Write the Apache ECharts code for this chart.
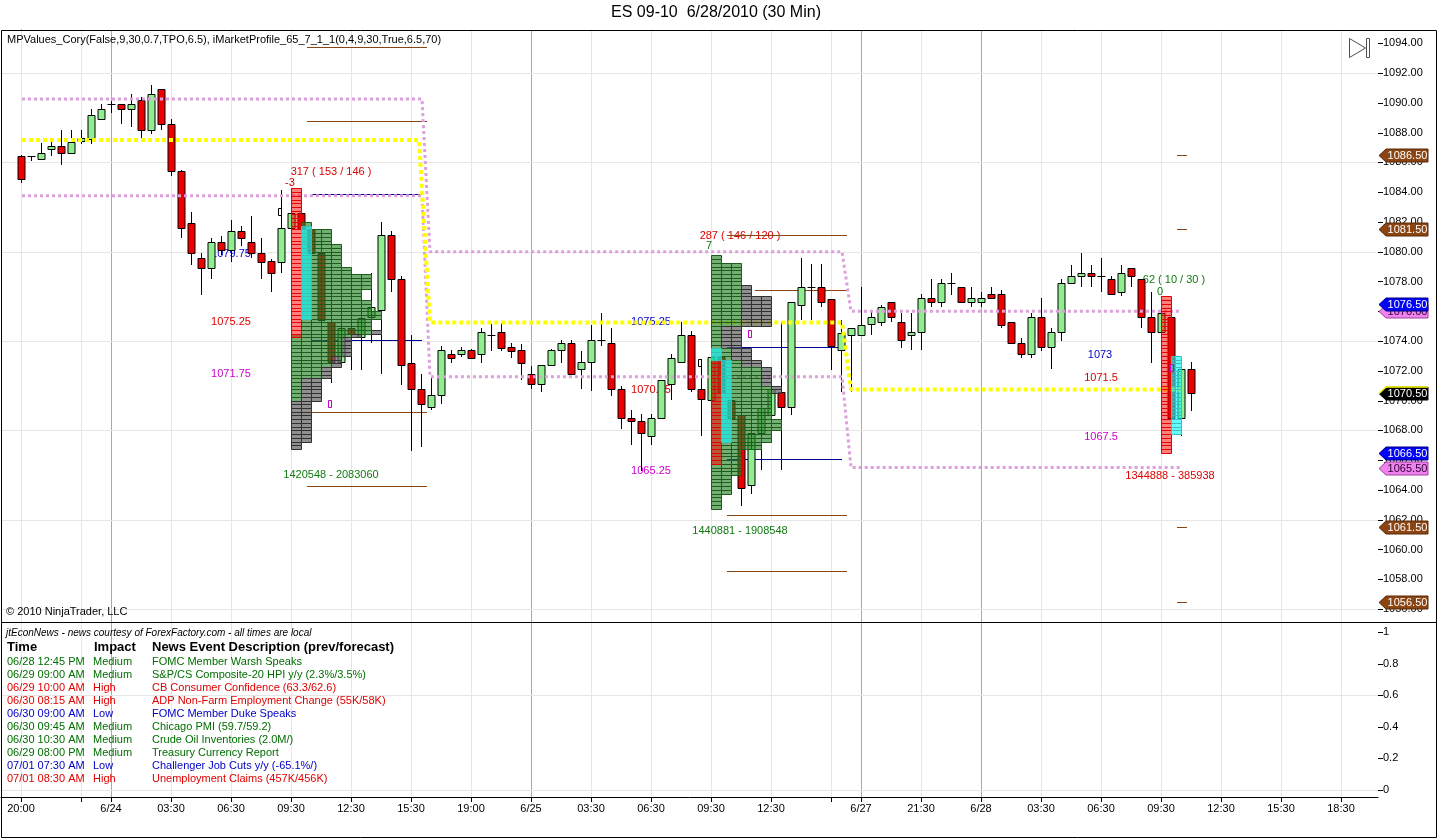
<!DOCTYPE html>
<html><head><meta charset="utf-8">
<script src="https://cdn.jsdelivr.net/npm/echarts@6/dist/echarts.min.js"></script>
<style>html,body{margin:0;padding:0;background:#fff;}#c{width:1440px;height:840px;}</style>
</head><body><div id="c"></div>
<script>
const FONT = '"Liberation Sans", Arial, sans-serif';

// ---- candle values (30-min bars) ----
const opens  = [1086.4,1086.4,1086.2,1086.9,1087.1,1086.6,1087.45,1087.6,1088.9,1089.9,1089.9,1089.6,1090.2,1088.2,1090.9,1088.6,1085.4,1081.9,1079.6,1078.9,1080.65,1080.1,1081.4,1080.65,1079.9,1079.4,1079.3,1081.6,1082.6,1081.5,1079.9,1075.3,1072.6,1074.9,1074.3,1075.6,1076.1,1081.1,1078.15,1072.55,1070.8,1069.6,1070.35,1073.1,1073.1,1073.4,1073.1,1074.4,1074.6,1073.6,1073.4,1071.8,1071.1,1072.4,1073.4,1073.85,1072.1,1072.6,1074.1,1073.85,1070.8,1068.85,1068.6,1067.6,1068.8,1071.1,1072.6,1074.4,1070.8,1070.05,1072.9,1070.05,1069.05,1064.3,1067.8,1069.05,1070.6,1069.6,1076.4,1077.6,1077.6,1076.8,1073.4,1074.4,1074.4,1075.15,1075.3,1076.6,1075.3,1074.4,1074.6,1076.9,1076.6,1077.9,1077.6,1076.6,1076.6,1077.15,1077.15,1075.3,1073.85,1073.1,1075.6,1073.6,1074.6,1077.9,1078.4,1078.6,1078.4,1078.15,1077.3,1078.9,1078.15,1075.6,1074.6,1075.6,1068.8,1072.1];
const closes = [1084.9,1086.4,1086.6,1087.1,1086.6,1087.4,1087.65,1089.2,1089.6,1089.9,1089.6,1089.9,1088.2,1090.6,1088.6,1085.4,1081.6,1079.9,1078.9,1080.65,1080.1,1081.4,1080.9,1079.9,1079.3,1078.6,1081.6,1082.6,1081.5,1079.9,1075.4,1072.6,1074.9,1074.5,1075.55,1076.3,1081.1,1078.15,1072.4,1070.8,1069.8,1070.35,1073.4,1072.85,1073.4,1072.85,1074.6,1074.4,1073.55,1073.35,1072.55,1071.1,1072.4,1073.4,1073.85,1071.8,1072.6,1074.1,1074.1,1070.8,1068.8,1068.6,1067.85,1068.8,1071.4,1072.85,1074.4,1070.8,1070.1,1072.9,1070.5,1068.8,1064.1,1067.8,1069.5,1070.8,1069.6,1076.6,1077.6,1077.6,1076.65,1073.65,1074.55,1074.85,1075.1,1075.6,1076.3,1075.6,1074.1,1074.6,1076.9,1076.6,1077.9,1077.9,1076.6,1076.9,1076.9,1076.9,1075.1,1073.85,1073.1,1075.6,1073.6,1074.6,1077.9,1078.4,1078.6,1078.4,1078.4,1077.15,1078.6,1078.4,1075.6,1074.6,1075.85,1068.8,1072.1,1070.5];
const lows   = [1084.6,1086.1,1086.2,1086.4,1085.8,1086.6,1087.2,1087.2,1088.9,1089.3,1088.6,1088.4,1087.6,1087.9,1088.2,1085.1,1080.9,1079.1,1077.1,1078.15,1079.8,1079.3,1080.35,1079.6,1078.15,1077.3,1078.6,1081.4,1080.5,1079.5,1075.0,1071.2,1072.4,1072.05,1072.05,1073.9,1071.8,1077.3,1071.05,1066.6,1066.9,1069.4,1069.8,1072.5,1072.9,1072.85,1072.55,1073.35,1073.35,1072.85,1071.4,1070.8,1070.6,1072.4,1072.55,1071.8,1070.8,1070.65,1073.65,1070.3,1068.1,1067.0,1065.25,1067.0,1068.8,1070.05,1072.6,1070.6,1067.6,1069.8,1069.5,1068.5,1062.9,1063.7,1065.35,1068.8,1065.35,1069.05,1075.4,1075.4,1076.3,1072.05,1070.6,1070.6,1074.4,1074.4,1075.0,1075.3,1073.55,1073.4,1073.4,1076.3,1076.3,1077.1,1076.6,1076.3,1076.3,1076.9,1074.85,1073.85,1072.85,1072.85,1073.35,1072.1,1074.0,1077.9,1077.6,1077.6,1077.3,1077.15,1077.0,1077.6,1074.85,1072.55,1073.5,1068.5,1067.6,1069.3];
const highs  = [1086.5,1086.4,1087.3,1087.4,1088.2,1088.2,1088.2,1089.6,1089.9,1090.1,1089.9,1090.6,1090.4,1091.2,1090.9,1088.9,1085.5,1082.65,1079.9,1080.9,1081.05,1082.1,1081.7,1082.4,1080.9,1079.5,1084.15,1083.0,1082.9,1081.8,1080.2,1075.5,1075.2,1075.1,1076.3,1078.6,1082.0,1081.4,1078.4,1074.4,1071.8,1071.6,1073.65,1073.4,1073.6,1073.45,1074.9,1075.15,1075.2,1073.9,1073.8,1072.3,1072.4,1073.45,1074.1,1074.1,1073.35,1075.1,1075.85,1074.85,1071.0,1069.4,1069.1,1069.1,1071.4,1073.1,1075.3,1074.7,1072.8,1073.2,1073.0,1070.3,1069.3,1068.3,1069.8,1071.0,1075.3,1076.6,1079.6,1079.15,1079.15,1076.8,1075.4,1074.85,1077.6,1076.1,1076.4,1076.6,1075.85,1075.85,1077.15,1078.15,1078.15,1078.6,1077.6,1077.6,1077.3,1077.6,1077.4,1075.3,1074.2,1075.85,1076.9,1074.9,1078.15,1079.1,1079.9,1079.1,1079.6,1078.4,1079.1,1078.9,1078.15,1077.3,1076.0,1075.8,1072.3,1072.6];

// ---- axis ticks ----
const xTickIdx    = [0,6,9,15,21,27,33,39,45,51,57,63,69,75,81,84,90,96,102,108,114,120,126,132];
const xTickLabels = ['20:00','','6/24','03:30','06:30','09:30','12:30','15:30','19:00','6/25','03:30','06:30','09:30','12:30','','6/27','21:30','6/28','03:30','06:30','09:30','12:30','15:30','18:30'];
const dayTicks = [9,51,84,96];
const yTickPrices = [];
for (let p = 1056; p <= 1094; p += 2) yTickPrices.push(p);
const hGridPrices = [1056,1062,1068,1074,1080,1086,1092];
const subTicks = [0,0.2,0.4,0.6,0.8,1];
const subGrid = [0,0.6];

// ---- market profiles: [high, low, greenFromCol, greenToCol, greyFromCol, greyToCol] ----
const profileAStart = 27.0;
const profileABands = [
 [1082.0,1081.5,1,2,0,0],[1081.5,1080.5,1,4,0,0],[1080.5,1079.0,1,5,0,0],[1079.0,1078.5,1,6,0,0],
 [1078.5,1077.5,1,8,0,0],[1077.5,1076.75,1,7,0,0],[1076.75,1076.0,1,8,0,0],[1076.0,1075.5,1,9,0,0],
 [1075.5,1074.75,1,8,0,0],[1074.75,1074.5,1,8,8,9],[1074.5,1074.25,0,6,6,7],[1074.25,1073.0,0,5,5,6],
 [1073.0,1072.25,0,4,4,5],[1072.25,1071.5,0,3,3,4],[1071.5,1070.0,0,1,1,3],[1070.0,1067.25,0,0,0,2],
 [1067.25,1066.75,0,0,0,1]];
const profileARed  = [[0,1084.25,1074.25]];
const profileACyan = [[1,1081.75,1075.5]];

const profileBStart = 69.0;
const profileBBands = [
 [1079.75,1079.25,0,1,0,0],[1079.25,1077.75,0,3,0,0],[1077.75,1077.0,0,3,3,4],[1077.0,1075.0,0,3,3,6],
 [1075.0,1073.5,0,1,1,3],[1073.5,1072.75,0,2,2,4],[1072.75,1072.25,0,3,3,5],[1072.25,1071.0,0,5,5,6],
 [1071.0,1070.5,0,6,6,7],[1070.5,1068.75,0,6,0,0],[1068.75,1068.0,0,7,0,0],[1068.0,1067.25,0,6,0,0],
 [1067.25,1066.75,0,5,0,0],[1066.75,1065.0,0,3,0,0],[1065.0,1063.75,0,2,0,0],[1063.75,1062.75,0,1,0,0]];
const profileBRed  = [[0,1072.75,1065.75]];
const profileBCyan = [[0,1073.5,1072.75],[1,1072.75,1067.25]];

const profileCStart = 114.0;
const profileCBands = [];
const profileCRed  = [[0,1077.0,1066.5]];
const profileCCyan = [[1,1073.0,1067.75]];

// ---- level segments: [fromIdx, toIdx, price, kind] ----
const levelSegments = [
 [28.6,40.6,1093.75,'brown'],[28.6,40.6,1088.75,'brown'],[29.1,40.6,1069.25,'brown'],[28.6,40.6,1064.25,'brown'],
 [29.1,40.1,1083.85,'blue'],[29.1,40.1,1074.1,'blue'],
 [70.6,82.6,1081.1,'brown'],[73.4,82.6,1077.4,'brown'],[70.6,82.6,1062.3,'brown'],[70.6,82.6,1058.55,'brown'],
 [70.6,82.1,1073.6,'blue'],[70.6,82.1,1066.06,'blue'],
 [115.6,116.6,1086.5,'brown'],[115.6,116.6,1081.5,'brown'],[115.6,116.6,1061.5,'brown'],[115.6,116.6,1056.5,'brown']];

// ---- dotted session levels ----
const pinkUpper = [[0.1,1090.25],[40.1,1090.25],[40.9,1080.0],[82.1,1080.0],[83.0,1076.0],[116.1,1076.0]];
const pinkLower = [[0.1,1083.75],[40.1,1083.75],[40.9,1071.6],[82.1,1071.6],[83.0,1065.5],[116.1,1065.5]];
const yellowLevel = [[0.1,1087.5],[39.8,1087.5],[40.9,1075.25],[82.1,1075.25],[83.0,1070.75],[116.1,1070.75]];

// ---- annotation labels: [idx, price, text, colour] ----
const annotations = [
 [31.0,1085.36,'317 ( 153 / 146 )','red'],[26.9,1084.62,'-3','red'],
 [21.0,1079.85,'1079.75','blue'],[21.0,1075.28,'1075.25','red'],[21.0,1071.8,'1071.75','magenta'],
 [31.0,1065.0,'1420548 - 2083060','green'],
 [63.0,1075.28,'1075.25','blue'],[63.0,1070.72,'1070.75','red'],[63.0,1065.28,'1065.25','magenta'],
 [71.9,1081.06,'287 ( 146 / 120 )','red'],[68.8,1080.4,'7','green'],[71.9,1061.25,'1440881 - 1908548','green'],
 [107.9,1073.07,'1073','blue'],[108.0,1071.53,'1071.5','red'],[108.0,1067.57,'1067.5','magenta'],
 [114.9,1064.94,'1344888 - 385938','red'],[115.3,1078.1,'62 ( 10 / 30 )','green'],[113.9,1077.3,'0','green']];

const hollowMarks = [[25.9,1082.65,'black'],[67.9,1072.5,'black'],[30.9,1069.8,'magenta'],[72.9,1074.5,'magenta'],[115.1,1072.2,'magenta']];

// ---- right axis price markers ----
const markerPrices = [1086.5,1081.5,1076.0,1076.5,1070.5,1066.5,1065.5,1061.5,1056.5];
const markerKinds  = ['brown','brown','pink','blue','last','blue','pink','brown','brown'];

// ---- news panel ----
const newsTimes = ['06/28 12:45 PM','06/29 09:00 AM','06/29 10:00 AM','06/30 08:15 AM','06/30 09:00 AM','06/30 09:45 AM','06/30 10:30 AM','06/29 08:00 PM','07/01 07:30 AM','07/01 08:30 AM'];
const newsImpacts = ['Medium','Medium','High','High','Low','Medium','Medium','Medium','Low','High'];
const newsDescs = ['FOMC Member Warsh Speaks','S&P/CS Composite-20 HPI y/y (2.3%/3.5%)','CB Consumer Confidence (63.3/62.6)','ADP Non-Farm Employment Change (55K/58K)','FOMC Member Duke Speaks','Chicago PMI (59.7/59.2)','Crude Oil Inventories (2.0M/)','Treasury Currency Report','Challenger Job Cuts y/y (-65.1%/)','Unemployment Claims (457K/456K)'];

// ================= rendering =================
const xMin = -2.0, xMax = 135.7, yMin = 1055.13, yMax = 1094.89;
const labelColors = {red:'#dd0000', blue:'#0000cc', magenta:'#cc00cc', green:'#107a10', black:'#000'};
const segColors = {brown:'#8b4513', blue:'#000099'};
const impactColors = {Medium:'#006e00', High:'#e00000', Low:'#0000c8'};

function buildCells(start, bands, red, cyan) {
  const cells = [];
  bands.forEach(b => {
    for (let p = b[0]; p > b[1] + 1e-6; p -= 0.25) {
      for (let c = b[2]; c < b[3]; c++) cells.push([start + c, p, 0]);
      for (let c = b[4]; c < b[5]; c++) cells.push([start + c, p, 1]);
    }
  });
  red.forEach(r => { for (let p = r[1]; p > r[2] + 1e-6; p -= 0.25) cells.push([start + r[0], p, 2]); });
  cyan.forEach(r => { for (let p = r[1]; p > r[2] + 1e-6; p -= 0.25) cells.push([start + r[0], p, 3]); });
  return cells;
}
const cells = [].concat(
  buildCells(profileAStart, profileABands, profileARed, profileACyan),
  buildCells(profileBStart, profileBBands, profileBRed, profileBCyan),
  buildCells(profileCStart, profileCBands, profileCRed, profileCCyan));
const cellStyles = [
  {fill:'rgba(40,130,40,0.65)', stroke:'#1d5a1d'},
  {fill:'rgba(100,100,100,0.72)', stroke:'#303030'},
  {fill:'rgba(255,0,0,0.5)', stroke:'#e00000'},
  {fill:'rgba(0,255,255,0.6)', stroke:'#40bcbc'}];

const candleData = opens.map((o, i) => [i, o, closes[i], lows[i], highs[i]]);

function candleRender(params, api) {
  const i = api.value(0), o = api.value(1), c = api.value(2), l = api.value(3), h = api.value(4);
  const pO = api.coord([i, o]), pC = api.coord([i, c]), pL = api.coord([i, l]), pH = api.coord([i, h]);
  const x = Math.round(pO[0]) + 0.5;
  const top = Math.round(Math.min(pO[1], pC[1])), bot = Math.round(Math.max(pO[1], pC[1]));
  const ch = [{type:'line', shape:{x1:x, y1:Math.round(pH[1]), x2:x, y2:Math.round(pL[1])}, style:{stroke:'#000', lineWidth:1}}];
  if (bot - top < 2) {
    ch.push({type:'line', shape:{x1:x-4, y1:top+0.5, x2:x+4, y2:top+0.5}, style:{stroke:'#000', lineWidth:1}});
  } else {
    ch.push({type:'rect', shape:{x:x-3.5, y:top+0.5, width:7, height:bot-top}, style:{fill: c >= o ? '#90ee90' : '#ee0000', stroke:'#000', lineWidth:1}});
  }
  return {type:'group', children:ch};
}
function cellRender(params, api) {
  const cl = cells[params.dataIndex];
  const a = api.coord([cl[0], cl[1]]), b = api.coord([cl[0] + 1, cl[1] - 0.25]);
  const x0 = Math.round(a[0]) + 0.5, y0 = Math.round(a[1]) + 0.5;
  const st = cellStyles[cl[2]];
  return {type:'rect', shape:{x:x0, y:y0, width:Math.round(b[0]) - Math.round(a[0]), height:Math.round(b[1]) - Math.round(a[1])}, style:{fill:st.fill, stroke:st.stroke, lineWidth:1}};
}
function vgridRender(params, api) {
  const v = xTickIdx[params.dataIndex];
  const cs = params.coordSys;
  const x = Math.round(api.coord([v, api.value(1)])[0]) + 0.5;
  return {type:'line', shape:{x1:x, y1:cs.y, x2:x, y2:cs.y + cs.height}, style:{stroke: dayTicks.indexOf(v) >= 0 ? '#a9a9a9' : '#e6e6e6', lineWidth:1}};
}
function hgridRender(params, api) {
  const cs = params.coordSys;
  const y = Math.round(api.coord([0, api.value(1)])[1]) + 0.5;
  return {type:'line', shape:{x1:cs.x, y1:y, x2:cs.x + cs.width, y2:y}, style:{stroke:'#e6e6e6', lineWidth:1}};
}
// y-axis tick marks drawn just right of the axis line
function yTickRender(params, api) {
  const cs = params.coordSys;
  const y = Math.round(api.coord([xMax, api.value(1)])[1]) + 0.5;
  const x = cs.x + cs.width;
  return {type:'line', shape:{x1:x, y1:y, x2:x + 5, y2:y}, style:{stroke:'#000', lineWidth:1}};
}
// x-axis tick marks drawn just below the axis line
function xTickRender(params, api) {
  const cs = params.coordSys;
  const x = Math.round(api.coord([api.value(0), 0.5])[0]) + 0.5;
  const y = cs.y + cs.height;
  return {type:'line', shape:{x1:x, y1:y, x2:x, y2:y + 5}, style:{stroke:'#000', lineWidth:1}};
}
function annRender(params, api) {
  const a = annotations[params.dataIndex];
  const p = api.coord([a[0], a[1]]);
  return {type:'text', x:Math.round(p[0]), y:Math.round(p[1]), style:{text:a[2], fill:labelColors[a[3]], font:'11px ' + FONT, align:'center', verticalAlign:'middle', textAlign:'center', textVerticalAlign:'middle'}};
}
function segRender(params, api) {
  const s = levelSegments[params.dataIndex];
  const a = api.coord([s[0], s[2]]), b = api.coord([s[1], s[2]]);
  const y = Math.round(a[1]) + 0.5;
  return {type:'line', shape:{x1:Math.round(a[0]), y1:y, x2:Math.round(b[0]), y2:y}, style:{stroke:segColors[s[3]], lineWidth:1}};
}
function hollowRender(params, api) {
  const m = hollowMarks[params.dataIndex];
  const p = api.coord([m[0], m[1]]);
  return {type:'rect', shape:{x:Math.round(p[0]) - 1.5, y:Math.round(p[1]) - 3.5, width:3, height:7}, style:{fill:'rgba(255,255,255,0)', stroke:labelColors[m[2]], lineWidth:1}};
}
const markerStyles = {
  brown:{fill:'#8b4513', stroke:'#5a2a08', text:'#fff'},
  blue:{fill:'#0000ff', stroke:'#000080', text:'#fff'},
  pink:{fill:'#ee82ee', stroke:'#a040a0', text:'#300030'},
  last:{fill:'#000', stroke:'#000', text:'#fff'}};
function markerRender(params, api) {
  const price = markerPrices[params.dataIndex], kind = markerKinds[params.dataIndex];
  const cs = params.coordSys;
  const x = cs.x + cs.width + 1;
  const y = Math.round(api.coord([xMax, price])[1]) + 0.5;
  const h = 6.5, st = markerStyles[kind];
  const ch = [
    {type:'polygon', shape:{points:[[x, y],[x + 7, y - h],[1428, y - h],[1428, y + h],[x + 7, y + h]]}, style:{fill:st.fill, stroke:st.stroke, lineWidth:1}},
    {type:'text', x:1407.5, y:y, style:{text:price.toFixed(2), fill:st.text, font:'11px ' + FONT, align:'center', verticalAlign:'middle', textAlign:'center', textVerticalAlign:'middle'}}];
  if (kind === 'last') ch.push({type:'polyline', shape:{points:[[x, y],[x + 7, y - h],[1428, y - h]]}, style:{stroke:'#ffff00', lineWidth:1.5, fill:null}});
  return {type:'group', children:ch};
}

// ---- graphic (title, panel text, frame) ----
const graphics = [
  {type:'rect', shape:{x:1.5, y:30.5, width:1435, height:807}, style:{fill:'none', stroke:'#000', lineWidth:1}, z:100},
  {type:'line', shape:{x1:1, y1:622.5, x2:1437, y2:622.5}, style:{stroke:'#000', lineWidth:1}, z:100},
  {type:'text', x:716, y:13, style:{text:'ES 09-10  6/28/2010 (30 Min)', font:'16px ' + FONT, fill:'#000', align:'center', verticalAlign:'middle', textAlign:'center', textVerticalAlign:'middle'}, z:100},
  {type:'text', x:7, y:40, style:{text:'MPValues_Cory(False,9,30,0.7,TPO,6.5), iMarketProfile_65_7_1_1(0,4,9,30,True,6.5,70)', font:'11px ' + FONT, fill:'#000', align:'left', verticalAlign:'middle', textAlign:'left', textVerticalAlign:'middle'}, z:100},
  {type:'text', x:6, y:612, style:{text:'\u00a9 2010 NinjaTrader, LLC', font:'11px ' + FONT, fill:'#000', align:'left', verticalAlign:'middle', textAlign:'left', textVerticalAlign:'middle'}, z:100},
  {type:'polygon', shape:{points:[[1349.5,38.5],[1349.5,57.5],[1365.5,48]]}, style:{fill:'#fff', stroke:'#505050', lineWidth:1}, z:100},
  {type:'rect', shape:{x:1366.5, y:38.5, width:3, height:19}, style:{fill:'#fff', stroke:'#505050', lineWidth:1}, z:100},
  {type:'text', x:6, y:633, style:{text:'jtEconNews - news courtesy of ForexFactory.com - all times are local', font:'italic 10px ' + FONT, fill:'#000', align:'left', verticalAlign:'middle', textAlign:'left', textVerticalAlign:'middle'}, z:100},
  {type:'text', x:7, y:647, style:{text:'Time', font:'bold 13px ' + FONT, fill:'#000', align:'left', verticalAlign:'middle', textAlign:'left', textVerticalAlign:'middle'}, z:100},
  {type:'text', x:94, y:647, style:{text:'Impact', font:'bold 13px ' + FONT, fill:'#000', align:'left', verticalAlign:'middle', textAlign:'left', textVerticalAlign:'middle'}, z:100},
  {type:'text', x:152, y:647, style:{text:'News Event Description (prev/forecast)', font:'bold 13px ' + FONT, fill:'#000', align:'left', verticalAlign:'middle', textAlign:'left', textVerticalAlign:'middle'}, z:100}
];
newsTimes.forEach((t, i) => {
  const y = 662 + i * 13, col = impactColors[newsImpacts[i]];
  [[7, t], [93, newsImpacts[i]], [152, newsDescs[i]]].forEach(([x, s]) => {
    graphics.push({type:'text', x:x, y:y, style:{text:s, font:'11px ' + FONT, fill:col, align:'left', verticalAlign:'middle', textAlign:'left', textVerticalAlign:'middle'}, z:100});
  });
});

const axisFont = {color:'#000', fontSize:11, fontFamily:FONT};
const option = {
  animation:false,
  backgroundColor:'#fff',
  grid:[
    {left:1, right:62, top:30, height:592},
    {left:1, right:62, top:622, height:175}],
  xAxis:[
    {type:'value', gridIndex:0, min:xMin, max:xMax, axisLine:{show:false}, axisTick:{show:false}, axisLabel:{show:false}, splitLine:{show:false}},
    {type:'value', gridIndex:1, min:xMin, max:xMax,
     axisLine:{show:true, onZero:false, lineStyle:{color:'#000', width:1}},
     axisTick:{show:false},
     axisLabel:Object.assign({show:true, margin:6, customValues:xTickIdx, formatter:v => { const k = xTickIdx.indexOf(Math.round(v)); return k >= 0 ? xTickLabels[k] : ''; }}, axisFont),
     splitLine:{show:false}}],
  yAxis:[
    {type:'value', gridIndex:0, position:'right', min:yMin, max:yMax,
     axisLine:{show:true, lineStyle:{color:'#000', width:1}},
     axisTick:{show:false},
     axisLabel:Object.assign({show:true, margin:5, customValues:yTickPrices, formatter:v => Number(v).toFixed(2)}, axisFont),
     splitLine:{show:false}},
    {type:'value', gridIndex:1, position:'right', min:-0.0443, max:1.0633,
     axisLine:{show:true, lineStyle:{color:'#000', width:1}},
     axisTick:{show:false},
     axisLabel:Object.assign({show:true, margin:5, customValues:subTicks, formatter:v => String(Number(Number(v).toFixed(1)))}, axisFont),
     splitLine:{show:false}}],
  series:[
    {type:'custom', xAxisIndex:0, yAxisIndex:0, data:xTickIdx.map(v => [v, 1075]), renderItem:vgridRender, z:1, silent:true},
    {type:'custom', xAxisIndex:1, yAxisIndex:1, data:xTickIdx.map(v => [v, 0.5]), renderItem:vgridRender, z:1, silent:true},
    {type:'custom', xAxisIndex:0, yAxisIndex:0, data:hGridPrices.map(p => [0, p]), renderItem:hgridRender, z:1, silent:true},
    {type:'custom', xAxisIndex:1, yAxisIndex:1, data:subGrid.map(p => [0, p]), renderItem:hgridRender, z:1, silent:true},
    {type:'custom', xAxisIndex:0, yAxisIndex:0, data:yTickPrices.map(p => [xMax, p]), renderItem:yTickRender, z:1, clip:false, silent:true},
    {type:'custom', xAxisIndex:1, yAxisIndex:1, data:subTicks.map(p => [xMax, p]), renderItem:yTickRender, z:1, clip:false, silent:true},
    {type:'custom', xAxisIndex:1, yAxisIndex:1, data:xTickIdx.map(v => [v, 0.5]), renderItem:xTickRender, z:1, clip:false, silent:true},
    {type:'custom', xAxisIndex:0, yAxisIndex:0, data:annotations.map(a => [a[0], a[1]]), renderItem:annRender, z:2, silent:true},
    {type:'custom', xAxisIndex:0, yAxisIndex:0, data:levelSegments.map(s => [s[0], s[2]]), renderItem:segRender, z:2, silent:true},
    {type:'custom', xAxisIndex:0, yAxisIndex:0, data:candleData, renderItem:candleRender, z:3, silent:true},
    {type:'line', xAxisIndex:0, yAxisIndex:0, data:pinkUpper, symbol:'none', lineStyle:{color:'#dda0dd', width:3, type:[3,3]}, z:4, silent:true},
    {type:'line', xAxisIndex:0, yAxisIndex:0, data:pinkLower, symbol:'none', lineStyle:{color:'#dda0dd', width:3, type:[3,3]}, z:4, silent:true},
    {type:'line', xAxisIndex:0, yAxisIndex:0, data:yellowLevel, symbol:'none', lineStyle:{color:'#ffff00', width:4, type:[4,3]}, z:4, silent:true},
    {type:'custom', xAxisIndex:0, yAxisIndex:0, data:cells.map(c => [c[0], c[1]]), renderItem:cellRender, z:5, silent:true},
    {type:'custom', xAxisIndex:0, yAxisIndex:0, data:hollowMarks.map(m => [m[0], m[1]]), renderItem:hollowRender, z:6, silent:true},
    {type:'custom', xAxisIndex:0, yAxisIndex:0, data:markerPrices.map(p => [xMax, p]), renderItem:markerRender, z:7, clip:false, silent:true}
  ],
  graphic:graphics
};
const chart = echarts.init(document.getElementById('c'));
chart.setOption(option);
</script>
</body></html>
